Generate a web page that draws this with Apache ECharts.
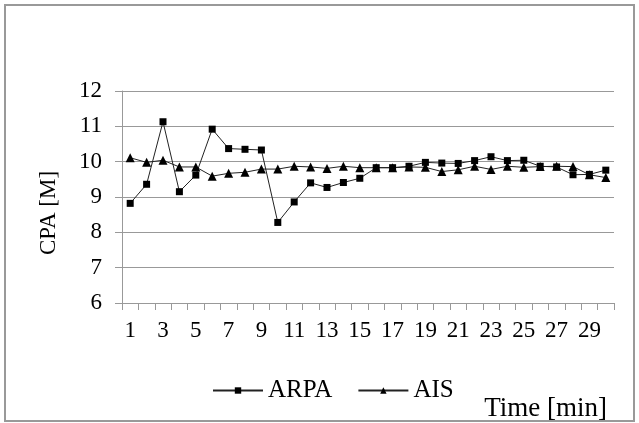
<!DOCTYPE html>
<html><head><meta charset="utf-8">
<script src="https://cdn.jsdelivr.net/npm/echarts@6/dist/echarts.min.js"></script>
<style>html,body{margin:0;padding:0;background:#fff}#c{width:639px;height:423px}</style>
</head><body><div id="c"></div>
<script>
const categories = ['1','2','3','4','5','6','7','8','9','10','11','12','13','14','15','16','17','18','19','20','21','22','23','24','25','26','27','28','29','30'];
const arpa = [8.82,9.36,11.13,9.15,9.62,10.92,10.37,10.35,10.33,8.28,8.86,9.40,9.27,9.41,9.53,9.83,9.83,9.87,9.98,9.96,9.95,10.03,10.14,10.03,10.04,9.87,9.85,9.63,9.64,9.76];
const ais = [10.11,9.98,10.04,9.85,9.85,9.59,9.67,9.70,9.79,9.79,9.87,9.85,9.81,9.87,9.83,9.83,9.83,9.85,9.84,9.72,9.77,9.87,9.78,9.87,9.84,9.86,9.87,9.86,9.63,9.55];
const yTicks = {min: 6, max: 12, interval: 1};
const font = 'Liberation Serif';
const chart = echarts.init(document.getElementById('c'));
chart.setOption({
  animation: false,
  backgroundColor: '#fff',
  grid: {left: 122, right: 25, top: 91, bottom: 120, containLabel: false},
  xAxis: {
    type: 'category', data: categories, boundaryGap: true,
    axisLine: {lineStyle: {color: '#999', width: 1}},
    axisTick: {show: true, inside: false, length: 7, alignWithLabel: false, interval: 0, lineStyle: {color: '#999'}},
    axisLabel: {interval: 1, color: '#000', fontFamily: font, fontSize: 23, margin: 16},
    splitLine: {show: false}
  },
  yAxis: {
    type: 'value', min: yTicks.min, max: yTicks.max, interval: yTicks.interval,
    axisLine: {show: true, lineStyle: {color: '#999', width: 1}},
    axisTick: {show: true, length: 7, lineStyle: {color: '#999'}},
    axisLabel: {color: '#000', fontFamily: font, fontSize: 23, margin: 20},
    splitLine: {show: true, lineStyle: {color: '#999', width: 1}}
  },
  legend: {
    left: 207, top: 373, itemWidth: 50, itemHeight: 8, itemGap: 25,
    textStyle: {color: '#000', fontFamily: font, fontSize: 25},
    data: ['ARPA', 'AIS']
  },
  graphic: [
    {type: 'rect', shape: {x: 5, y: 5, width: 629, height: 416}, style: {fill: 'none', stroke: '#999', lineWidth: 2}, silent: true},
    {type: 'text', right: 32, top: 395, style: {text: 'Time [min]', fill: '#000', font: '27px "Liberation Serif"'}},
    {type: 'text', x: 49, y: 213, rotation: Math.PI / 2, style: {text: 'CPA [M]', fill: '#000', font: '23px "Liberation Serif"', align: 'center', verticalAlign: 'middle'}}
  ],
  series: [
    {name: 'ARPA', type: 'line', data: arpa, symbol: 'rect', symbolSize: 7,
     lineStyle: {color: '#222', width: 1}, itemStyle: {color: '#000'}},
    {name: 'AIS', type: 'line', data: ais, symbol: 'triangle', symbolSize: 9,
     lineStyle: {color: '#222', width: 1}, itemStyle: {color: '#000'}}
  ]
});
</script></body></html>
